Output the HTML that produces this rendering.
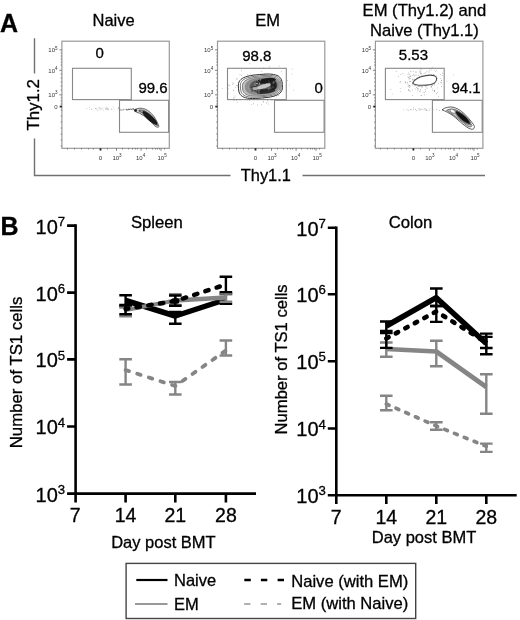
<!DOCTYPE html><html><head><meta charset="utf-8"><style>html,body{margin:0;padding:0;background:#fff;}svg{display:block;will-change:transform;}text{font-family:"Liberation Sans",sans-serif;stroke:#000;stroke-width:0.3px;}text.t{stroke:none;}</style></head><body>
<svg width="520" height="620" viewBox="0 0 520 620">
<rect width="520" height="620" fill="#fff"/>
<text x="0" y="31.6" font-size="25" font-weight="bold">A</text>
<text x="113.6" y="26.2" font-size="16.5" text-anchor="middle">Naive</text>
<text x="267.6" y="26.3" font-size="16.5" text-anchor="middle">EM</text>
<text x="424.4" y="16.4" font-size="16.6" text-anchor="middle">EM (Thy1.2) and</text>
<text x="424.4" y="36.1" font-size="16.6" text-anchor="middle">Naive (Thy1.1)</text>
<g stroke="#707070" stroke-width="1.4" fill="none">
<path d="M34.5 38.2V73.4M34.5 138.4V175.5H230.5M302.5 175.5H485"/>
</g>
<text transform="translate(38.6,130.4) rotate(-90)" font-size="16.8">Thy1.2</text>
<text x="240.8" y="181.4" font-size="16.4">Thy1.1</text>
<rect x="61.9" y="41.2" width="107.4" height="107.10000000000001" fill="none" stroke="#999" stroke-width="1.2"/>
<rect x="72.5" y="68.3" width="58.8" height="31.3" fill="none" stroke="#888" stroke-width="1.1"/>
<rect x="119.5" y="100.3" width="49.10" height="32" fill="none" stroke="#888" stroke-width="1.1"/>
<path d="M59.4 49.9h2.5M59.4 70.3h2.5M59.4 94.8h2.5M60.699999999999996 53h1.2M60.699999999999996 56h1.2M60.699999999999996 59h1.2M60.699999999999996 62h1.2M60.699999999999996 65h1.2M60.699999999999996 74h1.2M60.699999999999996 78h1.2M60.699999999999996 82h1.2M60.699999999999996 86h1.2M60.699999999999996 90h1.2M60.699999999999996 98h1.2M60.699999999999996 101h1.2M60.699999999999996 104h1.2M60.699999999999996 110h1.2M60.699999999999996 116h1.2M60.699999999999996 122h1.2M60.699999999999996 128h1.2M60.699999999999996 134h1.2M60.699999999999996 140h1.2M60.699999999999996 146h1.2" stroke="#666" stroke-width="0.8"/>
<rect x="59.699999999999996" y="105.69999999999999" width="2.2" height="1.8" fill="#222"/>
<path d="M116.5 148.3v2.5M141.1 148.3v2.5M161.0 148.3v2.5M67.5 148.3v1.2M74.5 148.3v1.2M81.5 148.3v1.2M88.5 148.3v1.2M93.5 148.3v1.2M107.5 148.3v1.2M122.5 148.3v1.2M128.5 148.3v1.2M132.5 148.3v1.2M135.5 148.3v1.2M137.5 148.3v1.2M146.5 148.3v1.2M152.5 148.3v1.2M155.5 148.3v1.2M157.5 148.3v1.2M159.5 148.3v1.2M164.5 148.3v1.2" stroke="#666" stroke-width="0.8"/>
<rect x="99.6" y="148.3" width="1.8" height="2.2" fill="#222"/>
<text x="57.6" y="52.1" font-size="6" text-anchor="end" fill="#333" class="t">10<tspan dy="-2.6" font-size="4.6">5</tspan></text>
<text x="57.6" y="72.5" font-size="6" text-anchor="end" fill="#333" class="t">10<tspan dy="-2.6" font-size="4.6">4</tspan></text>
<text x="57.6" y="97.0" font-size="6" text-anchor="end" fill="#333" class="t">10<tspan dy="-2.6" font-size="4.6">3</tspan></text>
<text x="57.6" y="108.8" font-size="6" text-anchor="end" fill="#333" class="t">0</text>
<text x="100.5" y="159.6" font-size="6" text-anchor="middle" fill="#333" class="t">0</text>
<text x="117.0" y="159.6" font-size="6" text-anchor="middle" fill="#333" class="t">10<tspan dy="-2.6" font-size="4.6">3</tspan></text>
<text x="140.6" y="159.6" font-size="6" text-anchor="middle" fill="#333" class="t">10<tspan dy="-2.6" font-size="4.6">4</tspan></text>
<text x="162.1" y="159.6" font-size="6" text-anchor="middle" fill="#333" class="t">10<tspan dy="-2.6" font-size="4.6">5</tspan></text>
<rect x="217.5" y="41.2" width="107.30000000000001" height="107.10000000000001" fill="none" stroke="#999" stroke-width="1.2"/>
<rect x="227.5" y="68.3" width="58.8" height="31.3" fill="none" stroke="#888" stroke-width="1.1"/>
<rect x="274.5" y="100.3" width="49.60" height="32" fill="none" stroke="#888" stroke-width="1.1"/>
<path d="M215.0 49.9h2.5M215.0 70.3h2.5M215.0 94.8h2.5M216.3 53h1.2M216.3 56h1.2M216.3 59h1.2M216.3 62h1.2M216.3 65h1.2M216.3 74h1.2M216.3 78h1.2M216.3 82h1.2M216.3 86h1.2M216.3 90h1.2M216.3 98h1.2M216.3 101h1.2M216.3 104h1.2M216.3 110h1.2M216.3 116h1.2M216.3 122h1.2M216.3 128h1.2M216.3 134h1.2M216.3 140h1.2M216.3 146h1.2" stroke="#666" stroke-width="0.8"/>
<rect x="215.3" y="105.69999999999999" width="2.2" height="1.8" fill="#222"/>
<path d="M271.5 148.3v2.5M296.1 148.3v2.5M316.0 148.3v2.5M222.5 148.3v1.2M229.5 148.3v1.2M236.5 148.3v1.2M243.5 148.3v1.2M248.5 148.3v1.2M262.5 148.3v1.2M277.5 148.3v1.2M283.5 148.3v1.2M287.5 148.3v1.2M290.5 148.3v1.2M292.5 148.3v1.2M301.5 148.3v1.2M307.5 148.3v1.2M310.5 148.3v1.2M312.5 148.3v1.2M314.5 148.3v1.2M319.5 148.3v1.2" stroke="#666" stroke-width="0.8"/>
<rect x="254.6" y="148.3" width="1.8" height="2.2" fill="#222"/>
<text x="213.2" y="52.1" font-size="6" text-anchor="end" fill="#333" class="t">10<tspan dy="-2.6" font-size="4.6">5</tspan></text>
<text x="213.2" y="72.5" font-size="6" text-anchor="end" fill="#333" class="t">10<tspan dy="-2.6" font-size="4.6">4</tspan></text>
<text x="213.2" y="97.0" font-size="6" text-anchor="end" fill="#333" class="t">10<tspan dy="-2.6" font-size="4.6">3</tspan></text>
<text x="213.2" y="108.8" font-size="6" text-anchor="end" fill="#333" class="t">0</text>
<text x="255.5" y="159.6" font-size="6" text-anchor="middle" fill="#333" class="t">0</text>
<text x="272.0" y="159.6" font-size="6" text-anchor="middle" fill="#333" class="t">10<tspan dy="-2.6" font-size="4.6">3</tspan></text>
<text x="295.6" y="159.6" font-size="6" text-anchor="middle" fill="#333" class="t">10<tspan dy="-2.6" font-size="4.6">4</tspan></text>
<text x="317.1" y="159.6" font-size="6" text-anchor="middle" fill="#333" class="t">10<tspan dy="-2.6" font-size="4.6">5</tspan></text>
<rect x="375.4" y="41.2" width="107.5" height="107.10000000000001" fill="none" stroke="#999" stroke-width="1.2"/>
<rect x="385.4" y="68.3" width="58.8" height="31.3" fill="none" stroke="#888" stroke-width="1.1"/>
<rect x="432.4" y="100.3" width="49.80" height="32" fill="none" stroke="#888" stroke-width="1.1"/>
<path d="M372.9 49.9h2.5M372.9 70.3h2.5M372.9 94.8h2.5M374.2 53h1.2M374.2 56h1.2M374.2 59h1.2M374.2 62h1.2M374.2 65h1.2M374.2 74h1.2M374.2 78h1.2M374.2 82h1.2M374.2 86h1.2M374.2 90h1.2M374.2 98h1.2M374.2 101h1.2M374.2 104h1.2M374.2 110h1.2M374.2 116h1.2M374.2 122h1.2M374.2 128h1.2M374.2 134h1.2M374.2 140h1.2M374.2 146h1.2" stroke="#666" stroke-width="0.8"/>
<rect x="373.2" y="105.69999999999999" width="2.2" height="1.8" fill="#222"/>
<path d="M429.4 148.3v2.5M454.0 148.3v2.5M473.9 148.3v2.5M380.4 148.3v1.2M387.4 148.3v1.2M394.4 148.3v1.2M401.4 148.3v1.2M406.4 148.3v1.2M420.4 148.3v1.2M435.4 148.3v1.2M441.4 148.3v1.2M445.4 148.3v1.2M448.4 148.3v1.2M450.4 148.3v1.2M459.4 148.3v1.2M465.4 148.3v1.2M468.4 148.3v1.2M470.4 148.3v1.2M472.4 148.3v1.2M477.4 148.3v1.2" stroke="#666" stroke-width="0.8"/>
<rect x="412.5" y="148.3" width="1.8" height="2.2" fill="#222"/>
<text x="371.09999999999997" y="52.1" font-size="6" text-anchor="end" fill="#333" class="t">10<tspan dy="-2.6" font-size="4.6">5</tspan></text>
<text x="371.09999999999997" y="72.5" font-size="6" text-anchor="end" fill="#333" class="t">10<tspan dy="-2.6" font-size="4.6">4</tspan></text>
<text x="371.09999999999997" y="97.0" font-size="6" text-anchor="end" fill="#333" class="t">10<tspan dy="-2.6" font-size="4.6">3</tspan></text>
<text x="371.09999999999997" y="108.8" font-size="6" text-anchor="end" fill="#333" class="t">0</text>
<text x="413.4" y="159.6" font-size="6" text-anchor="middle" fill="#333" class="t">0</text>
<text x="429.9" y="159.6" font-size="6" text-anchor="middle" fill="#333" class="t">10<tspan dy="-2.6" font-size="4.6">3</tspan></text>
<text x="453.5" y="159.6" font-size="6" text-anchor="middle" fill="#333" class="t">10<tspan dy="-2.6" font-size="4.6">4</tspan></text>
<text x="475.0" y="159.6" font-size="6" text-anchor="middle" fill="#333" class="t">10<tspan dy="-2.6" font-size="4.6">5</tspan></text>
<text transform="translate(95.5,58.3) scale(1,1.0)" font-size="15">0</text>
<text transform="translate(138.4,92.9) scale(1,1.0)" font-size="15">99.6</text>
<text transform="translate(242.2,60.8) scale(1,1.0)" font-size="15">98.8</text>
<text transform="translate(314.5,93.4) scale(1,1.0)" font-size="15">0</text>
<text transform="translate(398.8,59.9) scale(1,1.0)" font-size="15">5.53</text>
<text transform="translate(451.5,93.0) scale(1,1.0)" font-size="15">94.1</text>
<circle cx="101.0" cy="109.3" r="0.45" fill="#aaa"/>
<circle cx="101.2" cy="108.5" r="0.45" fill="#aaa"/>
<circle cx="95.6" cy="108.6" r="0.45" fill="#aaa"/>
<circle cx="111.9" cy="109.2" r="0.45" fill="#aaa"/>
<circle cx="111.3" cy="109.0" r="0.45" fill="#aaa"/>
<circle cx="106.2" cy="109.0" r="0.45" fill="#aaa"/>
<circle cx="89.7" cy="109.6" r="0.45" fill="#aaa"/>
<circle cx="107.1" cy="109.2" r="0.45" fill="#aaa"/>
<circle cx="89.5" cy="107.2" r="0.45" fill="#aaa"/>
<circle cx="95.9" cy="108.4" r="0.45" fill="#aaa"/>
<circle cx="105.4" cy="108.8" r="0.45" fill="#aaa"/>
<circle cx="107.2" cy="108.2" r="0.45" fill="#aaa"/>
<circle cx="105.5" cy="109.2" r="0.45" fill="#aaa"/>
<circle cx="97.7" cy="110.3" r="0.45" fill="#aaa"/>
<circle cx="107.5" cy="109.9" r="0.45" fill="#aaa"/>
<circle cx="98.0" cy="108.1" r="0.45" fill="#aaa"/>
<circle cx="100.2" cy="108.7" r="0.45" fill="#aaa"/>
<circle cx="108.1" cy="109.0" r="0.45" fill="#aaa"/>
<circle cx="99.4" cy="107.9" r="0.45" fill="#aaa"/>
<circle cx="98.8" cy="109.9" r="0.45" fill="#aaa"/>
<circle cx="96.5" cy="109.0" r="0.45" fill="#aaa"/>
<circle cx="106.4" cy="107.5" r="0.45" fill="#aaa"/>
<circle cx="103.4" cy="110.0" r="0.45" fill="#aaa"/>
<circle cx="86.9" cy="108.5" r="0.45" fill="#aaa"/>
<circle cx="102.2" cy="108.1" r="0.45" fill="#aaa"/>
<circle cx="107.0" cy="108.7" r="0.45" fill="#aaa"/>
<circle cx="91.3" cy="109.5" r="0.45" fill="#aaa"/>
<circle cx="108.4" cy="109.7" r="0.45" fill="#aaa"/>
<circle cx="114.5" cy="109.1" r="0.45" fill="#aaa"/>
<circle cx="104.0" cy="107.6" r="0.45" fill="#aaa"/>
<circle cx="107.9" cy="108.2" r="0.45" fill="#aaa"/>
<circle cx="99.4" cy="107.7" r="0.45" fill="#aaa"/>
<circle cx="95.3" cy="108.3" r="0.45" fill="#aaa"/>
<circle cx="113.3" cy="107.0" r="0.45" fill="#aaa"/>
<circle cx="91.3" cy="109.0" r="0.45" fill="#aaa"/>
<circle cx="133.5" cy="109.6" r="0.45" fill="#555"/>
<circle cx="118.5" cy="107.8" r="0.45" fill="#555"/>
<circle cx="128.6" cy="108.9" r="0.45" fill="#555"/>
<circle cx="122.0" cy="109.9" r="0.45" fill="#555"/>
<circle cx="132.0" cy="109.4" r="0.45" fill="#555"/>
<circle cx="128.1" cy="109.6" r="0.45" fill="#555"/>
<circle cx="134.2" cy="109.7" r="0.45" fill="#555"/>
<circle cx="129.3" cy="109.6" r="0.45" fill="#555"/>
<circle cx="119.9" cy="110.1" r="0.45" fill="#555"/>
<circle cx="131.3" cy="109.6" r="0.45" fill="#555"/>
<circle cx="118.1" cy="108.9" r="0.45" fill="#555"/>
<circle cx="130.8" cy="108.2" r="0.45" fill="#555"/>
<circle cx="126.2" cy="109.9" r="0.45" fill="#555"/>
<circle cx="121.1" cy="110.3" r="0.45" fill="#555"/>
<circle cx="129.5" cy="109.2" r="0.45" fill="#555"/>
<circle cx="128.5" cy="109.7" r="0.45" fill="#555"/>
<circle cx="127.5" cy="110.0" r="0.45" fill="#555"/>
<circle cx="124.0" cy="109.1" r="0.45" fill="#555"/>
<circle cx="131.7" cy="109.3" r="0.45" fill="#555"/>
<circle cx="123.0" cy="109.9" r="0.45" fill="#555"/>
<circle cx="133.6" cy="109.0" r="0.45" fill="#555"/>
<circle cx="120.8" cy="109.2" r="0.45" fill="#555"/>
<circle cx="126.3" cy="109.1" r="0.45" fill="#555"/>
<circle cx="133.3" cy="108.7" r="0.45" fill="#555"/>
<circle cx="132.7" cy="108.5" r="0.45" fill="#555"/>
<circle cx="123.5" cy="109.7" r="0.45" fill="#555"/>
<circle cx="132.1" cy="109.8" r="0.45" fill="#555"/>
<circle cx="128.6" cy="109.4" r="0.45" fill="#555"/>
<circle cx="127.7" cy="109.6" r="0.45" fill="#555"/>
<circle cx="126.2" cy="109.5" r="0.45" fill="#555"/>
<circle cx="129.6" cy="109.3" r="0.45" fill="#555"/>
<circle cx="130.4" cy="109.6" r="0.45" fill="#555"/>
<circle cx="136.0" cy="109.5" r="0.45" fill="#555"/>
<circle cx="125.1" cy="109.1" r="0.45" fill="#555"/>
<circle cx="126.9" cy="109.9" r="0.45" fill="#555"/>
<path d="M134.5 109.8 C138 107.6 143 107.6 147.5 110.3 C152.5 113.5 156.5 119.5 159 126.5 C157.5 128.5 154.5 126 151.5 122.5 C147 117.5 142 113.8 134.5 111.2 Z" fill="#d4d4d4" stroke="#444" stroke-width="0.8"/>
<path d="M139 110 C143 109.6 146 111 149 113.5 C153 117 155.5 121 157.5 125.5 C155 125 152 121.5 148.5 118 C145.5 115 142 112.5 139 111.2 Z" fill="#999" stroke="#333" stroke-width="0.6"/>
<ellipse cx="150" cy="118" rx="9.8" ry="2.8" transform="rotate(42 150 118)" fill="#1a1a1a"/>
<circle cx="135.7" cy="110.4" r="1.3" fill="#222"/>
<circle cx="254.0" cy="90.3" r="0.45" fill="#8a8a8a"/>
<circle cx="279.2" cy="65.9" r="0.45" fill="#8a8a8a"/>
<circle cx="243.8" cy="90.7" r="0.45" fill="#8a8a8a"/>
<circle cx="263.4" cy="87.9" r="0.45" fill="#8a8a8a"/>
<circle cx="253.1" cy="92.3" r="0.45" fill="#8a8a8a"/>
<circle cx="261.1" cy="82.9" r="0.45" fill="#8a8a8a"/>
<circle cx="289.6" cy="85.1" r="0.45" fill="#8a8a8a"/>
<circle cx="250.8" cy="87.3" r="0.45" fill="#8a8a8a"/>
<circle cx="255.0" cy="87.0" r="0.45" fill="#8a8a8a"/>
<circle cx="222.4" cy="88.6" r="0.45" fill="#8a8a8a"/>
<circle cx="269.8" cy="77.1" r="0.45" fill="#8a8a8a"/>
<circle cx="258.1" cy="93.7" r="0.45" fill="#8a8a8a"/>
<circle cx="270.5" cy="95.8" r="0.45" fill="#8a8a8a"/>
<circle cx="235.8" cy="87.6" r="0.45" fill="#8a8a8a"/>
<circle cx="254.2" cy="91.9" r="0.45" fill="#8a8a8a"/>
<circle cx="269.4" cy="66.4" r="0.45" fill="#8a8a8a"/>
<circle cx="270.6" cy="75.0" r="0.45" fill="#8a8a8a"/>
<circle cx="265.3" cy="75.4" r="0.45" fill="#8a8a8a"/>
<circle cx="261.4" cy="95.0" r="0.45" fill="#8a8a8a"/>
<circle cx="256.3" cy="88.6" r="0.45" fill="#8a8a8a"/>
<circle cx="268.4" cy="86.5" r="0.45" fill="#8a8a8a"/>
<circle cx="258.4" cy="97.8" r="0.45" fill="#8a8a8a"/>
<circle cx="271.2" cy="83.1" r="0.45" fill="#8a8a8a"/>
<circle cx="292.2" cy="74.1" r="0.45" fill="#8a8a8a"/>
<circle cx="269.5" cy="83.5" r="0.45" fill="#8a8a8a"/>
<circle cx="260.4" cy="91.6" r="0.45" fill="#8a8a8a"/>
<circle cx="261.5" cy="91.0" r="0.45" fill="#8a8a8a"/>
<circle cx="236.9" cy="79.3" r="0.45" fill="#8a8a8a"/>
<circle cx="265.0" cy="79.2" r="0.45" fill="#8a8a8a"/>
<circle cx="243.4" cy="78.7" r="0.45" fill="#8a8a8a"/>
<circle cx="275.0" cy="89.9" r="0.45" fill="#8a8a8a"/>
<circle cx="276.1" cy="77.8" r="0.45" fill="#8a8a8a"/>
<circle cx="256.9" cy="79.1" r="0.45" fill="#8a8a8a"/>
<circle cx="269.4" cy="96.6" r="0.45" fill="#8a8a8a"/>
<circle cx="248.1" cy="99.4" r="0.45" fill="#8a8a8a"/>
<circle cx="270.5" cy="84.0" r="0.45" fill="#8a8a8a"/>
<circle cx="234.0" cy="100.3" r="0.45" fill="#8a8a8a"/>
<circle cx="256.2" cy="83.0" r="0.45" fill="#8a8a8a"/>
<circle cx="263.5" cy="89.1" r="0.45" fill="#8a8a8a"/>
<circle cx="276.3" cy="77.2" r="0.45" fill="#8a8a8a"/>
<circle cx="274.1" cy="95.3" r="0.45" fill="#8a8a8a"/>
<circle cx="276.5" cy="83.1" r="0.45" fill="#8a8a8a"/>
<circle cx="249.4" cy="95.4" r="0.45" fill="#8a8a8a"/>
<circle cx="259.6" cy="87.7" r="0.45" fill="#8a8a8a"/>
<circle cx="276.1" cy="82.6" r="0.45" fill="#8a8a8a"/>
<circle cx="228.1" cy="88.5" r="0.45" fill="#8a8a8a"/>
<circle cx="234.9" cy="96.0" r="0.45" fill="#8a8a8a"/>
<circle cx="261.5" cy="82.2" r="0.45" fill="#8a8a8a"/>
<circle cx="258.7" cy="92.8" r="0.45" fill="#8a8a8a"/>
<circle cx="260.3" cy="96.1" r="0.45" fill="#8a8a8a"/>
<circle cx="258.2" cy="94.3" r="0.45" fill="#8a8a8a"/>
<circle cx="278.8" cy="95.5" r="0.45" fill="#8a8a8a"/>
<circle cx="250.2" cy="94.3" r="0.45" fill="#8a8a8a"/>
<circle cx="232.8" cy="82.9" r="0.45" fill="#8a8a8a"/>
<circle cx="233.8" cy="98.0" r="0.45" fill="#8a8a8a"/>
<circle cx="242.1" cy="89.1" r="0.45" fill="#8a8a8a"/>
<circle cx="255.5" cy="87.1" r="0.45" fill="#8a8a8a"/>
<circle cx="250.6" cy="89.7" r="0.45" fill="#8a8a8a"/>
<circle cx="281.1" cy="84.1" r="0.45" fill="#8a8a8a"/>
<circle cx="265.8" cy="93.0" r="0.45" fill="#8a8a8a"/>
<circle cx="254.2" cy="78.6" r="0.45" fill="#8a8a8a"/>
<circle cx="251.9" cy="95.4" r="0.45" fill="#8a8a8a"/>
<circle cx="236.2" cy="85.8" r="0.45" fill="#8a8a8a"/>
<circle cx="271.7" cy="90.7" r="0.45" fill="#8a8a8a"/>
<circle cx="258.9" cy="92.6" r="0.45" fill="#8a8a8a"/>
<circle cx="259.0" cy="78.5" r="0.45" fill="#8a8a8a"/>
<circle cx="237.2" cy="85.4" r="0.45" fill="#8a8a8a"/>
<circle cx="269.3" cy="81.4" r="0.45" fill="#8a8a8a"/>
<circle cx="245.6" cy="83.3" r="0.45" fill="#8a8a8a"/>
<circle cx="238.2" cy="89.0" r="0.45" fill="#8a8a8a"/>
<circle cx="243.2" cy="91.7" r="0.45" fill="#8a8a8a"/>
<circle cx="227.9" cy="93.5" r="0.45" fill="#8a8a8a"/>
<circle cx="247.8" cy="74.7" r="0.45" fill="#8a8a8a"/>
<circle cx="267.1" cy="83.8" r="0.45" fill="#8a8a8a"/>
<circle cx="228.4" cy="85.0" r="0.45" fill="#8a8a8a"/>
<circle cx="261.3" cy="83.3" r="0.45" fill="#8a8a8a"/>
<circle cx="268.8" cy="90.8" r="0.45" fill="#8a8a8a"/>
<circle cx="266.9" cy="88.1" r="0.45" fill="#8a8a8a"/>
<circle cx="275.8" cy="89.2" r="0.45" fill="#8a8a8a"/>
<circle cx="261.8" cy="71.7" r="0.45" fill="#8a8a8a"/>
<circle cx="270.8" cy="94.5" r="0.45" fill="#8a8a8a"/>
<circle cx="253.7" cy="84.3" r="0.45" fill="#8a8a8a"/>
<circle cx="281.3" cy="71.3" r="0.45" fill="#8a8a8a"/>
<circle cx="266.4" cy="103.0" r="0.45" fill="#8a8a8a"/>
<circle cx="246.7" cy="93.5" r="0.45" fill="#8a8a8a"/>
<circle cx="282.2" cy="82.8" r="0.45" fill="#8a8a8a"/>
<circle cx="266.1" cy="92.2" r="0.45" fill="#8a8a8a"/>
<circle cx="246.3" cy="88.0" r="0.45" fill="#8a8a8a"/>
<circle cx="262.6" cy="92.2" r="0.45" fill="#8a8a8a"/>
<circle cx="257.4" cy="85.7" r="0.45" fill="#8a8a8a"/>
<circle cx="244.6" cy="86.3" r="0.45" fill="#8a8a8a"/>
<circle cx="269.6" cy="86.1" r="0.45" fill="#8a8a8a"/>
<circle cx="246.2" cy="82.7" r="0.45" fill="#8a8a8a"/>
<circle cx="293.4" cy="90.1" r="0.45" fill="#8a8a8a"/>
<circle cx="263.7" cy="67.9" r="0.45" fill="#8a8a8a"/>
<circle cx="266.5" cy="89.2" r="0.45" fill="#8a8a8a"/>
<circle cx="280.1" cy="86.9" r="0.45" fill="#8a8a8a"/>
<circle cx="257.6" cy="90.7" r="0.45" fill="#8a8a8a"/>
<circle cx="234.0" cy="97.7" r="0.45" fill="#8a8a8a"/>
<circle cx="261.5" cy="81.5" r="0.45" fill="#8a8a8a"/>
<circle cx="276.8" cy="97.1" r="0.45" fill="#8a8a8a"/>
<circle cx="239.3" cy="84.9" r="0.45" fill="#8a8a8a"/>
<circle cx="261.9" cy="87.7" r="0.45" fill="#8a8a8a"/>
<circle cx="251.9" cy="81.0" r="0.45" fill="#8a8a8a"/>
<circle cx="286.3" cy="90.4" r="0.45" fill="#8a8a8a"/>
<circle cx="241.3" cy="79.8" r="0.45" fill="#8a8a8a"/>
<circle cx="280.9" cy="90.8" r="0.45" fill="#8a8a8a"/>
<circle cx="282.2" cy="89.3" r="0.45" fill="#8a8a8a"/>
<circle cx="247.0" cy="90.4" r="0.45" fill="#8a8a8a"/>
<circle cx="229.5" cy="85.7" r="0.45" fill="#8a8a8a"/>
<circle cx="257.8" cy="90.7" r="0.45" fill="#8a8a8a"/>
<circle cx="248.5" cy="87.5" r="0.45" fill="#8a8a8a"/>
<circle cx="264.3" cy="88.8" r="0.45" fill="#8a8a8a"/>
<circle cx="266.4" cy="87.3" r="0.45" fill="#8a8a8a"/>
<circle cx="254.6" cy="93.1" r="0.45" fill="#8a8a8a"/>
<circle cx="257.8" cy="81.2" r="0.45" fill="#8a8a8a"/>
<circle cx="249.9" cy="88.1" r="0.45" fill="#8a8a8a"/>
<circle cx="256.7" cy="88.3" r="0.45" fill="#8a8a8a"/>
<circle cx="258.2" cy="88.2" r="0.45" fill="#8a8a8a"/>
<circle cx="255.0" cy="78.5" r="0.45" fill="#8a8a8a"/>
<circle cx="264.5" cy="93.5" r="0.45" fill="#8a8a8a"/>
<circle cx="263.4" cy="84.9" r="0.45" fill="#8a8a8a"/>
<circle cx="262.8" cy="79.5" r="0.45" fill="#8a8a8a"/>
<circle cx="233.6" cy="90.8" r="0.45" fill="#8a8a8a"/>
<circle cx="246.7" cy="93.8" r="0.45" fill="#8a8a8a"/>
<circle cx="241.5" cy="70.7" r="0.45" fill="#8a8a8a"/>
<circle cx="246.2" cy="99.8" r="0.45" fill="#8a8a8a"/>
<circle cx="251.8" cy="78.2" r="0.45" fill="#8a8a8a"/>
<circle cx="248.7" cy="92.0" r="0.45" fill="#8a8a8a"/>
<circle cx="264.6" cy="87.3" r="0.45" fill="#8a8a8a"/>
<circle cx="277.8" cy="89.2" r="0.45" fill="#8a8a8a"/>
<circle cx="258.3" cy="91.2" r="0.45" fill="#8a8a8a"/>
<circle cx="280.2" cy="90.7" r="0.45" fill="#8a8a8a"/>
<circle cx="270.1" cy="77.6" r="0.45" fill="#8a8a8a"/>
<circle cx="256.8" cy="92.3" r="0.45" fill="#8a8a8a"/>
<circle cx="255.2" cy="94.9" r="0.45" fill="#8a8a8a"/>
<circle cx="266.6" cy="92.2" r="0.45" fill="#8a8a8a"/>
<circle cx="257.7" cy="105.0" r="0.45" fill="#8a8a8a"/>
<circle cx="273.8" cy="83.3" r="0.45" fill="#8a8a8a"/>
<circle cx="261.7" cy="104.8" r="0.45" fill="#8a8a8a"/>
<circle cx="254.4" cy="93.7" r="0.45" fill="#8a8a8a"/>
<circle cx="270.6" cy="85.3" r="0.45" fill="#8a8a8a"/>
<circle cx="243.2" cy="90.4" r="0.45" fill="#8a8a8a"/>
<circle cx="263.7" cy="94.2" r="0.45" fill="#8a8a8a"/>
<circle cx="268.1" cy="85.8" r="0.45" fill="#8a8a8a"/>
<circle cx="269.5" cy="89.2" r="0.45" fill="#8a8a8a"/>
<circle cx="260.7" cy="87.0" r="0.45" fill="#8a8a8a"/>
<circle cx="255.5" cy="92.2" r="0.45" fill="#8a8a8a"/>
<circle cx="243.8" cy="84.5" r="0.45" fill="#8a8a8a"/>
<circle cx="256.6" cy="76.8" r="0.45" fill="#8a8a8a"/>
<circle cx="250.4" cy="73.9" r="0.45" fill="#8a8a8a"/>
<circle cx="249.8" cy="92.2" r="0.45" fill="#8a8a8a"/>
<circle cx="265.2" cy="85.6" r="0.45" fill="#8a8a8a"/>
<circle cx="253.6" cy="77.6" r="0.45" fill="#8a8a8a"/>
<circle cx="282.0" cy="87.3" r="0.45" fill="#8a8a8a"/>
<circle cx="271.2" cy="78.9" r="0.45" fill="#8a8a8a"/>
<circle cx="253.8" cy="74.7" r="0.45" fill="#8a8a8a"/>
<circle cx="269.0" cy="92.1" r="0.45" fill="#8a8a8a"/>
<circle cx="233.5" cy="90.1" r="0.45" fill="#8a8a8a"/>
<circle cx="264.4" cy="73.6" r="0.45" fill="#8a8a8a"/>
<circle cx="233.5" cy="82.9" r="0.45" fill="#8a8a8a"/>
<circle cx="248.5" cy="78.4" r="0.45" fill="#8a8a8a"/>
<circle cx="258.7" cy="88.7" r="0.45" fill="#8a8a8a"/>
<circle cx="266.8" cy="90.7" r="0.45" fill="#8a8a8a"/>
<circle cx="278.5" cy="92.4" r="0.45" fill="#8a8a8a"/>
<circle cx="240.6" cy="85.9" r="0.45" fill="#8a8a8a"/>
<circle cx="243.3" cy="81.5" r="0.45" fill="#8a8a8a"/>
<circle cx="257.0" cy="87.2" r="0.45" fill="#8a8a8a"/>
<circle cx="262.8" cy="75.1" r="0.45" fill="#8a8a8a"/>
<circle cx="242.0" cy="89.1" r="0.45" fill="#8a8a8a"/>
<circle cx="255.1" cy="85.2" r="0.45" fill="#8a8a8a"/>
<circle cx="256.4" cy="81.8" r="0.45" fill="#8a8a8a"/>
<circle cx="267.4" cy="88.2" r="0.45" fill="#8a8a8a"/>
<circle cx="256.2" cy="82.5" r="0.45" fill="#8a8a8a"/>
<circle cx="253.1" cy="68.4" r="0.45" fill="#8a8a8a"/>
<circle cx="245.4" cy="89.0" r="0.45" fill="#8a8a8a"/>
<circle cx="238.8" cy="91.1" r="0.45" fill="#8a8a8a"/>
<circle cx="258.6" cy="77.2" r="0.45" fill="#8a8a8a"/>
<circle cx="254.5" cy="85.3" r="0.45" fill="#8a8a8a"/>
<circle cx="264.5" cy="90.4" r="0.45" fill="#8a8a8a"/>
<circle cx="256.7" cy="81.2" r="0.45" fill="#8a8a8a"/>
<circle cx="256.1" cy="86.8" r="0.45" fill="#8a8a8a"/>
<circle cx="267.7" cy="87.7" r="0.45" fill="#8a8a8a"/>
<circle cx="247.4" cy="78.9" r="0.45" fill="#8a8a8a"/>
<circle cx="252.5" cy="82.5" r="0.45" fill="#8a8a8a"/>
<circle cx="243.6" cy="88.2" r="0.45" fill="#8a8a8a"/>
<circle cx="251.8" cy="88.6" r="0.45" fill="#8a8a8a"/>
<circle cx="264.3" cy="83.2" r="0.45" fill="#8a8a8a"/>
<circle cx="287.6" cy="80.6" r="0.45" fill="#8a8a8a"/>
<circle cx="272.3" cy="85.9" r="0.45" fill="#8a8a8a"/>
<circle cx="270.1" cy="68.5" r="0.45" fill="#8a8a8a"/>
<circle cx="248.6" cy="90.1" r="0.45" fill="#8a8a8a"/>
<circle cx="268.0" cy="102.1" r="0.45" fill="#8a8a8a"/>
<circle cx="263.4" cy="95.3" r="0.45" fill="#8a8a8a"/>
<circle cx="268.8" cy="92.2" r="0.45" fill="#8a8a8a"/>
<circle cx="264.4" cy="85.0" r="0.45" fill="#8a8a8a"/>
<circle cx="263.5" cy="78.6" r="0.45" fill="#8a8a8a"/>
<circle cx="272.2" cy="77.8" r="0.45" fill="#8a8a8a"/>
<circle cx="263.3" cy="101.3" r="0.45" fill="#8a8a8a"/>
<circle cx="255.1" cy="87.5" r="0.45" fill="#8a8a8a"/>
<circle cx="273.0" cy="85.1" r="0.45" fill="#8a8a8a"/>
<circle cx="247.9" cy="90.3" r="0.45" fill="#8a8a8a"/>
<circle cx="266.2" cy="90.9" r="0.45" fill="#8a8a8a"/>
<circle cx="249.8" cy="100.5" r="0.45" fill="#8a8a8a"/>
<circle cx="279.5" cy="84.1" r="0.45" fill="#8a8a8a"/>
<circle cx="261.0" cy="83.5" r="0.45" fill="#8a8a8a"/>
<circle cx="275.5" cy="79.6" r="0.45" fill="#8a8a8a"/>
<circle cx="266.2" cy="82.5" r="0.45" fill="#8a8a8a"/>
<circle cx="249.8" cy="93.2" r="0.45" fill="#8a8a8a"/>
<circle cx="275.2" cy="84.5" r="0.45" fill="#8a8a8a"/>
<circle cx="250.1" cy="93.9" r="0.45" fill="#8a8a8a"/>
<circle cx="257.7" cy="89.2" r="0.45" fill="#8a8a8a"/>
<circle cx="278.7" cy="92.1" r="0.45" fill="#8a8a8a"/>
<circle cx="253.5" cy="103.8" r="0.45" fill="#8a8a8a"/>
<circle cx="258.8" cy="92.4" r="0.45" fill="#8a8a8a"/>
<circle cx="249.6" cy="87.9" r="0.45" fill="#8a8a8a"/>
<circle cx="237.2" cy="102.6" r="0.45" fill="#8a8a8a"/>
<circle cx="274.4" cy="76.1" r="0.45" fill="#8a8a8a"/>
<circle cx="237.0" cy="78.5" r="0.45" fill="#8a8a8a"/>
<circle cx="272.7" cy="81.7" r="0.45" fill="#8a8a8a"/>
<circle cx="256.9" cy="84.9" r="0.45" fill="#8a8a8a"/>
<circle cx="255.4" cy="79.7" r="0.45" fill="#8a8a8a"/>
<circle cx="256.9" cy="77.0" r="0.45" fill="#8a8a8a"/>
<circle cx="257.4" cy="89.3" r="0.45" fill="#8a8a8a"/>
<circle cx="263.8" cy="84.5" r="0.45" fill="#8a8a8a"/>
<circle cx="246.5" cy="89.7" r="0.45" fill="#8a8a8a"/>
<circle cx="253.3" cy="98.7" r="0.45" fill="#8a8a8a"/>
<circle cx="267.8" cy="84.8" r="0.45" fill="#8a8a8a"/>
<circle cx="251.3" cy="83.0" r="0.45" fill="#8a8a8a"/>
<circle cx="245.6" cy="86.2" r="0.45" fill="#8a8a8a"/>
<circle cx="262.3" cy="90.0" r="0.45" fill="#8a8a8a"/>
<circle cx="267.4" cy="100.5" r="0.45" fill="#8a8a8a"/>
<circle cx="248.9" cy="88.4" r="0.45" fill="#8a8a8a"/>
<circle cx="292.2" cy="69.0" r="0.45" fill="#8a8a8a"/>
<circle cx="251.5" cy="89.1" r="0.45" fill="#8a8a8a"/>
<circle cx="260.4" cy="89.5" r="0.45" fill="#8a8a8a"/>
<circle cx="255.3" cy="90.0" r="0.45" fill="#8a8a8a"/>
<circle cx="259.4" cy="92.3" r="0.45" fill="#8a8a8a"/>
<circle cx="232.8" cy="84.3" r="0.45" fill="#8a8a8a"/>
<circle cx="257.0" cy="79.9" r="0.45" fill="#8a8a8a"/>
<circle cx="245.2" cy="93.2" r="0.45" fill="#8a8a8a"/>
<circle cx="250.3" cy="92.6" r="0.45" fill="#8a8a8a"/>
<circle cx="267.9" cy="87.8" r="0.45" fill="#8a8a8a"/>
<circle cx="264.4" cy="85.4" r="0.45" fill="#8a8a8a"/>
<circle cx="239.8" cy="89.3" r="0.45" fill="#8a8a8a"/>
<circle cx="263.3" cy="82.5" r="0.45" fill="#8a8a8a"/>
<circle cx="257.4" cy="92.4" r="0.45" fill="#8a8a8a"/>
<circle cx="247.3" cy="93.0" r="0.45" fill="#8a8a8a"/>
<circle cx="281.4" cy="79.8" r="0.45" fill="#8a8a8a"/>
<circle cx="259.7" cy="85.7" r="0.45" fill="#8a8a8a"/>
<circle cx="278.1" cy="86.4" r="0.45" fill="#8a8a8a"/>
<circle cx="268.9" cy="80.6" r="0.45" fill="#8a8a8a"/>
<circle cx="257.8" cy="87.0" r="0.45" fill="#8a8a8a"/>
<circle cx="236.5" cy="100.2" r="0.45" fill="#8a8a8a"/>
<circle cx="267.9" cy="73.2" r="0.45" fill="#8a8a8a"/>
<circle cx="267.5" cy="84.7" r="0.45" fill="#8a8a8a"/>
<circle cx="264.1" cy="88.7" r="0.45" fill="#8a8a8a"/>
<circle cx="238.5" cy="88.2" r="0.45" fill="#8a8a8a"/>
<circle cx="276.7" cy="80.3" r="0.45" fill="#8a8a8a"/>
<circle cx="243.5" cy="79.4" r="0.45" fill="#8a8a8a"/>
<circle cx="242.6" cy="91.5" r="0.45" fill="#8a8a8a"/>
<circle cx="280.2" cy="86.9" r="0.45" fill="#8a8a8a"/>
<circle cx="263.3" cy="102.0" r="0.45" fill="#8a8a8a"/>
<circle cx="250.7" cy="83.3" r="0.45" fill="#8a8a8a"/>
<circle cx="265.3" cy="89.8" r="0.45" fill="#8a8a8a"/>
<circle cx="243.8" cy="80.7" r="0.45" fill="#8a8a8a"/>
<circle cx="262.0" cy="88.2" r="0.45" fill="#8a8a8a"/>
<circle cx="241.0" cy="88.0" r="0.45" fill="#8a8a8a"/>
<circle cx="251.5" cy="91.2" r="0.45" fill="#8a8a8a"/>
<circle cx="256.4" cy="86.6" r="0.45" fill="#8a8a8a"/>
<circle cx="254.5" cy="94.9" r="0.45" fill="#8a8a8a"/>
<circle cx="275.5" cy="81.9" r="0.45" fill="#8a8a8a"/>
<circle cx="268.2" cy="80.2" r="0.45" fill="#8a8a8a"/>
<circle cx="259.7" cy="92.1" r="0.45" fill="#8a8a8a"/>
<circle cx="277.1" cy="81.6" r="0.45" fill="#8a8a8a"/>
<circle cx="257.2" cy="88.5" r="0.45" fill="#8a8a8a"/>
<circle cx="238.7" cy="89.8" r="0.45" fill="#8a8a8a"/>
<circle cx="249.7" cy="90.8" r="0.45" fill="#8a8a8a"/>
<circle cx="241.5" cy="75.3" r="0.45" fill="#8a8a8a"/>
<circle cx="258.7" cy="88.7" r="0.45" fill="#8a8a8a"/>
<circle cx="251.8" cy="94.2" r="0.45" fill="#8a8a8a"/>
<circle cx="253.9" cy="83.3" r="0.45" fill="#8a8a8a"/>
<circle cx="262.6" cy="75.3" r="0.45" fill="#8a8a8a"/>
<circle cx="249.3" cy="88.1" r="0.45" fill="#8a8a8a"/>
<circle cx="268.8" cy="84.3" r="0.45" fill="#8a8a8a"/>
<circle cx="261.3" cy="81.9" r="0.45" fill="#8a8a8a"/>
<circle cx="263.5" cy="98.0" r="0.45" fill="#8a8a8a"/>
<circle cx="251.5" cy="104.6" r="0.45" fill="#8a8a8a"/>
<circle cx="249.7" cy="88.3" r="0.45" fill="#8a8a8a"/>
<circle cx="261.2" cy="93.8" r="0.45" fill="#8a8a8a"/>
<circle cx="240.0" cy="74.7" r="0.45" fill="#8a8a8a"/>
<circle cx="266.6" cy="91.4" r="0.45" fill="#8a8a8a"/>
<circle cx="268.6" cy="104.1" r="0.45" fill="#8a8a8a"/>
<circle cx="260.9" cy="88.4" r="0.45" fill="#8a8a8a"/>
<circle cx="270.3" cy="87.9" r="0.45" fill="#8a8a8a"/>
<circle cx="278.2" cy="75.4" r="0.45" fill="#8a8a8a"/>
<circle cx="249.8" cy="63.8" r="0.45" fill="#8a8a8a"/>
<circle cx="268.1" cy="82.9" r="0.45" fill="#8a8a8a"/>
<circle cx="272.0" cy="100.3" r="0.45" fill="#8a8a8a"/>
<circle cx="257.7" cy="85.2" r="0.45" fill="#8a8a8a"/>
<path d="M282.32 84.38 L282.46 87.42 L282.23 89.20 L281.73 90.68 L280.96 91.96 L279.92 93.10 L278.61 94.11 L277.02 95.00 L275.14 95.77 L272.93 96.44 L270.31 97.01 L267.06 97.49 L261.43 98.06 L255.78 98.48 L252.50 98.57 L249.82 98.46 L247.53 98.19 L245.54 97.75 L243.82 97.15 L242.36 96.39 L241.14 95.45 L240.15 94.31 L239.40 92.95 L238.87 91.23 L238.48 88.22 L238.34 85.18 L238.57 83.40 L239.07 81.92 L239.84 80.64 L240.88 79.50 L242.19 78.49 L243.78 77.60 L245.66 76.83 L247.87 76.16 L250.49 75.59 L253.74 75.11 L259.37 74.54 L265.02 74.12 L268.30 74.03 L270.98 74.14 L273.27 74.41 L275.26 74.85 L276.98 75.45 L278.44 76.21 L279.66 77.15 L280.65 78.29 L281.40 79.65 L281.93 81.37Z" fill="#fff" stroke="#333" stroke-width="1.0"/>
<path d="M281.12 84.52 L281.24 87.22 L281.03 88.81 L280.56 90.13 L279.84 91.27 L278.87 92.29 L277.66 93.19 L276.18 93.99 L274.43 94.68 L272.38 95.29 L269.95 95.80 L266.94 96.24 L261.72 96.76 L256.48 97.16 L253.44 97.24 L250.96 97.16 L248.83 96.92 L246.99 96.54 L245.40 96.01 L244.04 95.34 L242.91 94.50 L242.00 93.50 L241.31 92.29 L240.83 90.76 L240.48 88.08 L240.36 85.38 L240.57 83.79 L241.04 82.47 L241.76 81.33 L242.73 80.31 L243.94 79.41 L245.42 78.61 L247.17 77.92 L249.22 77.31 L251.65 76.80 L254.66 76.36 L259.88 75.84 L265.12 75.44 L268.16 75.36 L270.64 75.44 L272.77 75.68 L274.61 76.06 L276.20 76.59 L277.56 77.26 L278.69 78.10 L279.60 79.10 L280.29 80.31 L280.77 81.84Z" fill="#fff" stroke="#555" stroke-width="0.8"/>
<path d="M280.13 84.65 L280.20 86.85 L279.98 88.26 L279.51 89.46 L278.79 90.52 L277.83 91.47 L276.64 92.32 L275.20 93.08 L273.52 93.75 L271.55 94.32 L269.27 94.81 L266.51 95.22 L262.12 95.66 L257.72 95.99 L254.93 96.06 L252.59 95.98 L250.56 95.75 L248.79 95.39 L247.24 94.90 L245.92 94.27 L244.81 93.49 L243.92 92.57 L243.24 91.47 L242.78 90.12 L242.47 87.95 L242.40 85.75 L242.62 84.34 L243.09 83.14 L243.81 82.08 L244.77 81.13 L245.96 80.28 L247.40 79.52 L249.08 78.85 L251.05 78.28 L253.33 77.79 L256.09 77.38 L260.48 76.94 L264.88 76.61 L267.67 76.54 L270.01 76.62 L272.04 76.85 L273.81 77.21 L275.36 77.70 L276.68 78.33 L277.79 79.11 L278.68 80.03 L279.36 81.13 L279.82 82.48Z" fill="#c0c0c0" stroke="#555" stroke-width="0.7"/>
<path d="M278.94 84.64 L278.98 86.35 L278.75 87.56 L278.29 88.62 L277.60 89.58 L276.69 90.45 L275.57 91.24 L274.22 91.94 L272.66 92.55 L270.87 93.09 L268.81 93.54 L266.40 93.91 L262.91 94.27 L259.42 94.52 L256.98 94.57 L254.88 94.49 L253.02 94.27 L251.37 93.94 L249.93 93.48 L248.68 92.90 L247.64 92.20 L246.79 91.38 L246.16 90.41 L245.72 89.26 L245.46 87.56 L245.42 85.85 L245.65 84.64 L246.11 83.58 L246.80 82.62 L247.71 81.75 L248.83 80.96 L250.18 80.26 L251.74 79.65 L253.53 79.11 L255.59 78.66 L258.00 78.29 L261.49 77.93 L264.98 77.68 L267.42 77.63 L269.52 77.71 L271.38 77.93 L273.03 78.26 L274.47 78.72 L275.72 79.30 L276.76 80.00 L277.61 80.82 L278.24 81.79 L278.68 82.94Z" fill="#8e8e8e" stroke="#777" stroke-width="0.5"/>
<path d="M277.05 84.62 L277.06 85.84 L276.85 86.79 L276.45 87.65 L275.85 88.45 L275.07 89.18 L274.11 89.84 L272.97 90.44 L271.66 90.97 L270.18 91.43 L268.52 91.81 L266.64 92.11 L264.18 92.37 L261.71 92.54 L259.80 92.57 L258.10 92.48 L256.56 92.29 L255.18 92.00 L253.96 91.61 L252.89 91.12 L251.99 90.53 L251.27 89.85 L250.72 89.07 L250.35 88.17 L250.15 86.98 L250.14 85.76 L250.35 84.81 L250.75 83.95 L251.35 83.15 L252.13 82.42 L253.09 81.76 L254.23 81.16 L255.54 80.63 L257.02 80.17 L258.68 79.79 L260.56 79.49 L263.02 79.23 L265.49 79.06 L267.40 79.03 L269.10 79.12 L270.64 79.31 L272.02 79.60 L273.24 79.99 L274.31 80.48 L275.21 81.07 L275.93 81.75 L276.48 82.53 L276.85 83.43Z" fill="#5a5a5a" stroke="#555" stroke-width="0.4"/>
<ellipse cx="266" cy="80.8" rx="10" ry="2.6" transform="rotate(-8 266 80.8)" fill="#1a1a1a"/>
<ellipse cx="266" cy="91.3" rx="9.5" ry="2.3" transform="rotate(-8 266 91.3)" fill="#2a2a2a"/>
<ellipse cx="273.5" cy="85" rx="3" ry="4.5" transform="rotate(-8 273.5 85)" fill="#222"/>
<circle cx="266.6" cy="83.9" r="0.99" fill="#aaa"/>
<circle cx="260.4" cy="80.7" r="0.64" fill="#333"/>
<circle cx="257.8" cy="92.7" r="0.78" fill="#333"/>
<circle cx="269.2" cy="83.7" r="0.91" fill="#aaa"/>
<circle cx="260.1" cy="79.9" r="0.60" fill="#222"/>
<circle cx="263.2" cy="85.1" r="0.68" fill="#aaa"/>
<circle cx="259.5" cy="90.6" r="0.52" fill="#222"/>
<circle cx="273.8" cy="81.6" r="0.95" fill="#333"/>
<circle cx="257.5" cy="83.2" r="0.52" fill="#777"/>
<circle cx="268.9" cy="88.1" r="0.65" fill="#aaa"/>
<circle cx="268.2" cy="86.8" r="0.51" fill="#333"/>
<circle cx="254.5" cy="86.3" r="0.98" fill="#222"/>
<circle cx="258.8" cy="82.8" r="0.91" fill="#222"/>
<circle cx="251.7" cy="86.8" r="0.90" fill="#333"/>
<circle cx="268.7" cy="89.9" r="0.80" fill="#555"/>
<circle cx="257.2" cy="83.9" r="0.89" fill="#aaa"/>
<circle cx="264.7" cy="85.9" r="0.88" fill="#222"/>
<circle cx="248.9" cy="87.9" r="0.58" fill="#aaa"/>
<circle cx="259.9" cy="80.6" r="0.63" fill="#333"/>
<circle cx="262.0" cy="88.9" r="0.59" fill="#222"/>
<circle cx="251.7" cy="86.3" r="0.87" fill="#555"/>
<circle cx="271.7" cy="87.5" r="0.89" fill="#333"/>
<circle cx="256.2" cy="83.4" r="0.69" fill="#aaa"/>
<circle cx="268.7" cy="81.2" r="0.59" fill="#555"/>
<circle cx="254.6" cy="83.6" r="0.59" fill="#777"/>
<circle cx="254.9" cy="87.0" r="0.83" fill="#333"/>
<circle cx="261.3" cy="90.5" r="0.96" fill="#222"/>
<circle cx="251.3" cy="82.6" r="0.60" fill="#777"/>
<circle cx="250.1" cy="87.2" r="0.72" fill="#555"/>
<circle cx="255.3" cy="90.5" r="0.55" fill="#333"/>
<circle cx="264.7" cy="87.4" r="0.52" fill="#555"/>
<circle cx="257.5" cy="80.0" r="0.52" fill="#aaa"/>
<circle cx="268.5" cy="91.2" r="0.91" fill="#333"/>
<circle cx="259.5" cy="84.4" r="0.66" fill="#777"/>
<circle cx="253.7" cy="90.8" r="0.74" fill="#777"/>
<circle cx="259.4" cy="90.4" r="0.58" fill="#777"/>
<circle cx="263.0" cy="88.1" r="0.85" fill="#222"/>
<circle cx="259.5" cy="83.2" r="0.71" fill="#aaa"/>
<circle cx="272.7" cy="83.9" r="0.93" fill="#333"/>
<circle cx="253.5" cy="89.9" r="0.97" fill="#555"/>
<circle cx="260.2" cy="81.3" r="0.91" fill="#333"/>
<circle cx="259.4" cy="91.6" r="0.89" fill="#222"/>
<circle cx="252.0" cy="91.1" r="0.54" fill="#222"/>
<circle cx="265.4" cy="83.9" r="0.59" fill="#777"/>
<circle cx="257.7" cy="81.6" r="0.96" fill="#555"/>
<circle cx="251.0" cy="86.8" r="0.65" fill="#555"/>
<circle cx="273.6" cy="82.4" r="0.96" fill="#777"/>
<circle cx="258.9" cy="91.9" r="0.84" fill="#777"/>
<circle cx="273.0" cy="87.0" r="0.81" fill="#555"/>
<circle cx="265.2" cy="81.5" r="0.59" fill="#222"/>
<circle cx="254.1" cy="85.3" r="0.58" fill="#777"/>
<circle cx="258.1" cy="81.4" r="0.52" fill="#555"/>
<circle cx="263.7" cy="89.5" r="0.83" fill="#333"/>
<circle cx="257.1" cy="84.9" r="0.78" fill="#222"/>
<circle cx="265.6" cy="83.0" r="0.65" fill="#222"/>
<circle cx="255.0" cy="85.1" r="0.72" fill="#aaa"/>
<circle cx="260.3" cy="79.5" r="0.99" fill="#777"/>
<circle cx="261.0" cy="85.3" r="0.89" fill="#777"/>
<circle cx="260.8" cy="81.6" r="0.70" fill="#222"/>
<ellipse cx="263.5" cy="86.5" rx="7.5" ry="2.1" transform="rotate(-15 263.5 86.5)" fill="#c8c8c8"/>
<ellipse cx="255" cy="88.5" rx="2.5" ry="1.5" fill="#b0b0b0"/>
<circle cx="430.2" cy="82.7" r="0.45" fill="#888"/>
<circle cx="409.3" cy="90.2" r="0.45" fill="#888"/>
<circle cx="405.7" cy="82.9" r="0.45" fill="#888"/>
<circle cx="426.4" cy="81.7" r="0.45" fill="#888"/>
<circle cx="428.8" cy="78.4" r="0.45" fill="#888"/>
<circle cx="420.0" cy="79.4" r="0.45" fill="#888"/>
<circle cx="420.1" cy="69.9" r="0.45" fill="#888"/>
<circle cx="409.7" cy="74.8" r="0.45" fill="#888"/>
<circle cx="424.9" cy="81.4" r="0.45" fill="#888"/>
<circle cx="408.3" cy="77.2" r="0.45" fill="#888"/>
<circle cx="425.5" cy="82.9" r="0.45" fill="#888"/>
<circle cx="427.2" cy="77.9" r="0.45" fill="#888"/>
<circle cx="427.0" cy="71.7" r="0.45" fill="#888"/>
<circle cx="413.6" cy="74.1" r="0.45" fill="#888"/>
<circle cx="425.6" cy="91.3" r="0.45" fill="#888"/>
<circle cx="414.6" cy="79.5" r="0.45" fill="#888"/>
<circle cx="415.3" cy="88.9" r="0.45" fill="#888"/>
<circle cx="430.2" cy="77.1" r="0.45" fill="#888"/>
<circle cx="421.8" cy="95.7" r="0.45" fill="#888"/>
<circle cx="407.2" cy="83.9" r="0.45" fill="#888"/>
<circle cx="415.0" cy="79.4" r="0.45" fill="#888"/>
<circle cx="416.4" cy="84.6" r="0.45" fill="#888"/>
<circle cx="409.3" cy="87.2" r="0.45" fill="#888"/>
<circle cx="419.9" cy="86.5" r="0.45" fill="#888"/>
<circle cx="408.5" cy="89.7" r="0.45" fill="#888"/>
<circle cx="420.4" cy="91.0" r="0.45" fill="#888"/>
<circle cx="441.0" cy="82.7" r="0.45" fill="#888"/>
<circle cx="432.1" cy="79.1" r="0.45" fill="#888"/>
<circle cx="405.1" cy="82.0" r="0.45" fill="#888"/>
<circle cx="427.1" cy="78.3" r="0.45" fill="#888"/>
<circle cx="400.7" cy="81.2" r="0.45" fill="#888"/>
<circle cx="419.7" cy="76.3" r="0.45" fill="#888"/>
<circle cx="414.3" cy="85.9" r="0.45" fill="#888"/>
<circle cx="427.1" cy="84.8" r="0.45" fill="#888"/>
<circle cx="427.8" cy="82.7" r="0.45" fill="#888"/>
<circle cx="400.4" cy="74.4" r="0.45" fill="#888"/>
<circle cx="418.0" cy="88.2" r="0.45" fill="#888"/>
<circle cx="412.4" cy="95.8" r="0.45" fill="#888"/>
<circle cx="436.5" cy="70.6" r="0.45" fill="#888"/>
<circle cx="433.9" cy="74.7" r="0.45" fill="#888"/>
<circle cx="420.5" cy="77.6" r="0.45" fill="#888"/>
<circle cx="418.1" cy="89.3" r="0.45" fill="#888"/>
<circle cx="412.6" cy="85.0" r="0.45" fill="#888"/>
<circle cx="432.7" cy="82.2" r="0.45" fill="#888"/>
<circle cx="418.5" cy="80.7" r="0.45" fill="#888"/>
<circle cx="434.0" cy="82.5" r="0.45" fill="#888"/>
<circle cx="417.5" cy="88.2" r="0.45" fill="#888"/>
<circle cx="410.3" cy="81.4" r="0.45" fill="#888"/>
<circle cx="419.5" cy="84.5" r="0.45" fill="#888"/>
<circle cx="408.7" cy="90.5" r="0.45" fill="#888"/>
<circle cx="422.0" cy="82.2" r="0.45" fill="#888"/>
<circle cx="425.4" cy="72.8" r="0.45" fill="#888"/>
<circle cx="417.5" cy="82.5" r="0.45" fill="#888"/>
<circle cx="431.2" cy="86.9" r="0.45" fill="#888"/>
<circle cx="419.7" cy="91.7" r="0.45" fill="#888"/>
<circle cx="424.4" cy="80.8" r="0.45" fill="#888"/>
<circle cx="429.4" cy="70.1" r="0.45" fill="#888"/>
<circle cx="409.2" cy="78.7" r="0.45" fill="#888"/>
<circle cx="410.5" cy="78.6" r="0.45" fill="#888"/>
<circle cx="414.7" cy="82.3" r="0.45" fill="#888"/>
<circle cx="424.7" cy="81.1" r="0.45" fill="#888"/>
<circle cx="427.7" cy="81.4" r="0.45" fill="#888"/>
<circle cx="434.5" cy="90.3" r="0.45" fill="#888"/>
<circle cx="432.9" cy="84.9" r="0.45" fill="#888"/>
<circle cx="416.9" cy="78.9" r="0.45" fill="#888"/>
<circle cx="410.6" cy="86.1" r="0.45" fill="#888"/>
<circle cx="410.9" cy="76.3" r="0.45" fill="#888"/>
<circle cx="409.0" cy="86.6" r="0.45" fill="#888"/>
<circle cx="417.2" cy="81.8" r="0.45" fill="#888"/>
<circle cx="396.2" cy="71.5" r="0.45" fill="#888"/>
<circle cx="418.4" cy="75.5" r="0.45" fill="#888"/>
<circle cx="411.0" cy="81.3" r="0.45" fill="#888"/>
<circle cx="400.3" cy="88.4" r="0.45" fill="#888"/>
<circle cx="434.7" cy="84.0" r="0.45" fill="#888"/>
<circle cx="438.6" cy="96.3" r="0.45" fill="#888"/>
<circle cx="420.7" cy="89.5" r="0.45" fill="#888"/>
<circle cx="437.6" cy="87.9" r="0.45" fill="#888"/>
<circle cx="442.7" cy="73.2" r="0.45" fill="#888"/>
<circle cx="420.9" cy="83.3" r="0.45" fill="#888"/>
<circle cx="410.0" cy="76.4" r="0.45" fill="#888"/>
<circle cx="410.7" cy="71.2" r="0.45" fill="#888"/>
<circle cx="429.5" cy="79.8" r="0.45" fill="#888"/>
<circle cx="440.4" cy="74.4" r="0.45" fill="#888"/>
<circle cx="432.0" cy="83.7" r="0.45" fill="#888"/>
<circle cx="433.0" cy="90.7" r="0.45" fill="#888"/>
<circle cx="424.5" cy="78.0" r="0.45" fill="#888"/>
<circle cx="434.6" cy="90.4" r="0.45" fill="#888"/>
<circle cx="425.2" cy="86.2" r="0.45" fill="#888"/>
<circle cx="412.5" cy="79.2" r="0.45" fill="#888"/>
<circle cx="434.0" cy="70.1" r="0.45" fill="#888"/>
<circle cx="440.8" cy="78.2" r="0.45" fill="#888"/>
<circle cx="409.4" cy="81.3" r="0.45" fill="#888"/>
<circle cx="419.8" cy="81.5" r="0.45" fill="#888"/>
<circle cx="446.9" cy="81.1" r="0.45" fill="#888"/>
<circle cx="424.4" cy="92.6" r="0.45" fill="#888"/>
<circle cx="423.0" cy="75.9" r="0.45" fill="#888"/>
<circle cx="409.0" cy="79.1" r="0.45" fill="#888"/>
<circle cx="422.4" cy="82.6" r="0.45" fill="#888"/>
<circle cx="432.6" cy="85.3" r="0.45" fill="#888"/>
<circle cx="437.5" cy="92.7" r="0.45" fill="#888"/>
<circle cx="420.1" cy="80.3" r="0.45" fill="#888"/>
<circle cx="431.3" cy="86.5" r="0.45" fill="#888"/>
<circle cx="424.8" cy="81.6" r="0.45" fill="#888"/>
<circle cx="441.0" cy="82.5" r="0.45" fill="#888"/>
<circle cx="421.1" cy="77.8" r="0.45" fill="#888"/>
<circle cx="433.2" cy="78.3" r="0.45" fill="#888"/>
<circle cx="408.9" cy="73.0" r="0.45" fill="#888"/>
<circle cx="420.7" cy="72.8" r="0.45" fill="#888"/>
<circle cx="415.4" cy="84.9" r="0.45" fill="#888"/>
<circle cx="421.9" cy="82.8" r="0.45" fill="#888"/>
<circle cx="442.4" cy="75.4" r="0.45" fill="#888"/>
<circle cx="420.9" cy="79.1" r="0.45" fill="#888"/>
<circle cx="420.3" cy="73.7" r="0.45" fill="#888"/>
<circle cx="415.5" cy="82.5" r="0.45" fill="#888"/>
<circle cx="424.1" cy="73.5" r="0.45" fill="#888"/>
<circle cx="418.9" cy="86.5" r="0.45" fill="#888"/>
<circle cx="420.9" cy="86.6" r="0.45" fill="#888"/>
<circle cx="423.9" cy="80.5" r="0.45" fill="#888"/>
<circle cx="421.2" cy="69.4" r="0.45" fill="#888"/>
<circle cx="421.9" cy="73.9" r="0.45" fill="#888"/>
<circle cx="412.6" cy="83.1" r="0.45" fill="#888"/>
<circle cx="419.5" cy="71.9" r="0.45" fill="#888"/>
<circle cx="433.5" cy="81.5" r="0.45" fill="#888"/>
<circle cx="431.0" cy="84.1" r="0.45" fill="#888"/>
<circle cx="434.1" cy="82.3" r="0.45" fill="#888"/>
<circle cx="415.6" cy="72.0" r="0.45" fill="#888"/>
<circle cx="413.1" cy="80.3" r="0.45" fill="#888"/>
<circle cx="409.6" cy="85.3" r="0.45" fill="#888"/>
<circle cx="417.8" cy="90.8" r="0.45" fill="#888"/>
<circle cx="430.3" cy="82.2" r="0.45" fill="#888"/>
<circle cx="434.8" cy="84.9" r="0.45" fill="#888"/>
<circle cx="432.1" cy="67.5" r="0.45" fill="#888"/>
<circle cx="398.3" cy="76.3" r="0.45" fill="#888"/>
<circle cx="407.3" cy="82.3" r="0.45" fill="#888"/>
<circle cx="432.3" cy="88.9" r="0.45" fill="#888"/>
<circle cx="427.9" cy="79.3" r="0.45" fill="#888"/>
<circle cx="434.6" cy="91.3" r="0.45" fill="#888"/>
<circle cx="421.6" cy="75.1" r="0.45" fill="#888"/>
<circle cx="434.3" cy="79.7" r="0.45" fill="#888"/>
<circle cx="428.7" cy="83.7" r="0.45" fill="#888"/>
<circle cx="441.6" cy="86.5" r="0.45" fill="#888"/>
<circle cx="433.8" cy="74.4" r="0.45" fill="#888"/>
<circle cx="408.1" cy="86.6" r="0.45" fill="#888"/>
<circle cx="415.2" cy="85.5" r="0.45" fill="#888"/>
<circle cx="409.5" cy="85.7" r="0.45" fill="#888"/>
<circle cx="436.6" cy="93.7" r="0.45" fill="#888"/>
<circle cx="402.9" cy="73.7" r="0.45" fill="#888"/>
<circle cx="431.3" cy="85.7" r="0.45" fill="#888"/>
<circle cx="415.0" cy="75.1" r="0.45" fill="#888"/>
<circle cx="434.6" cy="81.6" r="0.45" fill="#888"/>
<circle cx="400.0" cy="82.2" r="0.45" fill="#888"/>
<circle cx="408.6" cy="85.0" r="0.45" fill="#888"/>
<circle cx="416.4" cy="87.5" r="0.45" fill="#888"/>
<circle cx="417.6" cy="77.9" r="0.45" fill="#888"/>
<circle cx="422.6" cy="86.3" r="0.45" fill="#888"/>
<circle cx="410.2" cy="76.0" r="0.45" fill="#888"/>
<circle cx="412.7" cy="82.2" r="0.45" fill="#888"/>
<circle cx="420.5" cy="71.2" r="0.45" fill="#888"/>
<circle cx="408.0" cy="76.9" r="0.45" fill="#888"/>
<circle cx="437.4" cy="78.4" r="0.45" fill="#888"/>
<circle cx="413.0" cy="79.3" r="0.45" fill="#888"/>
<circle cx="424.7" cy="94.9" r="0.45" fill="#888"/>
<circle cx="421.0" cy="95.2" r="0.45" fill="#888"/>
<circle cx="427.2" cy="80.7" r="0.45" fill="#888"/>
<circle cx="416.9" cy="78.9" r="0.45" fill="#888"/>
<circle cx="424.7" cy="83.7" r="0.45" fill="#888"/>
<circle cx="418.6" cy="86.1" r="0.45" fill="#888"/>
<circle cx="420.5" cy="84.2" r="0.45" fill="#888"/>
<circle cx="428.0" cy="78.4" r="0.45" fill="#888"/>
<circle cx="429.3" cy="76.5" r="0.45" fill="#888"/>
<circle cx="441.5" cy="80.2" r="0.45" fill="#888"/>
<circle cx="414.3" cy="83.7" r="0.45" fill="#888"/>
<circle cx="429.6" cy="80.0" r="0.45" fill="#888"/>
<circle cx="429.0" cy="81.2" r="0.45" fill="#888"/>
<circle cx="420.9" cy="80.9" r="0.45" fill="#888"/>
<circle cx="423.1" cy="92.1" r="0.45" fill="#888"/>
<circle cx="416.1" cy="75.0" r="0.45" fill="#888"/>
<circle cx="408.0" cy="74.3" r="0.45" fill="#888"/>
<circle cx="412.8" cy="75.4" r="0.45" fill="#888"/>
<circle cx="431.2" cy="74.9" r="0.45" fill="#888"/>
<circle cx="414.3" cy="80.2" r="0.45" fill="#888"/>
<circle cx="423.5" cy="83.8" r="0.45" fill="#888"/>
<circle cx="413.8" cy="84.0" r="0.45" fill="#888"/>
<circle cx="413.1" cy="71.2" r="0.45" fill="#888"/>
<circle cx="422.1" cy="87.0" r="0.45" fill="#888"/>
<circle cx="419.3" cy="78.5" r="0.45" fill="#888"/>
<circle cx="427.5" cy="75.7" r="0.45" fill="#888"/>
<circle cx="441.6" cy="80.7" r="0.45" fill="#888"/>
<circle cx="405.6" cy="82.2" r="0.45" fill="#888"/>
<circle cx="435.6" cy="71.6" r="0.45" fill="#888"/>
<circle cx="420.4" cy="82.3" r="0.45" fill="#888"/>
<circle cx="431.1" cy="69.9" r="0.45" fill="#888"/>
<circle cx="427.5" cy="83.4" r="0.45" fill="#888"/>
<circle cx="425.2" cy="89.7" r="0.45" fill="#888"/>
<circle cx="427.5" cy="79.7" r="0.45" fill="#888"/>
<circle cx="410.2" cy="91.4" r="0.45" fill="#888"/>
<circle cx="414.3" cy="83.2" r="0.45" fill="#888"/>
<circle cx="419.2" cy="81.8" r="0.45" fill="#888"/>
<circle cx="423.1" cy="76.2" r="0.45" fill="#888"/>
<circle cx="412.3" cy="90.0" r="0.45" fill="#888"/>
<circle cx="390.8" cy="89.2" r="0.45" fill="#888"/>
<circle cx="426.7" cy="87.0" r="0.45" fill="#888"/>
<circle cx="436.0" cy="76.3" r="0.45" fill="#888"/>
<circle cx="409.2" cy="77.6" r="0.45" fill="#888"/>
<circle cx="421.4" cy="86.9" r="0.45" fill="#888"/>
<circle cx="424.9" cy="81.9" r="0.45" fill="#888"/>
<circle cx="433.3" cy="76.3" r="0.45" fill="#888"/>
<circle cx="414.1" cy="75.7" r="0.45" fill="#888"/>
<circle cx="428.2" cy="83.7" r="0.45" fill="#888"/>
<circle cx="400.9" cy="91.6" r="0.45" fill="#888"/>
<circle cx="453.7" cy="74.9" r="0.45" fill="#888"/>
<circle cx="432.1" cy="78.8" r="0.45" fill="#888"/>
<circle cx="434.4" cy="91.0" r="0.45" fill="#888"/>
<circle cx="438.4" cy="83.8" r="0.45" fill="#888"/>
<circle cx="427.0" cy="88.3" r="0.45" fill="#888"/>
<circle cx="416.5" cy="72.0" r="0.45" fill="#888"/>
<circle cx="431.1" cy="87.0" r="0.45" fill="#888"/>
<circle cx="429.1" cy="72.0" r="0.45" fill="#888"/>
<circle cx="392.2" cy="94.1" r="0.45" fill="#888"/>
<circle cx="421.1" cy="73.5" r="0.45" fill="#888"/>
<path d="M412.8 83.3 C414 80 417.5 78 421 76.8 C425.5 75.3 431 74.6 434.5 75.8 C437.5 77 437.2 81 434.5 83 C431.5 85 426 85.4 421 85.3 C417.5 85.2 414.5 84.6 412.8 83.3 Z" fill="#fff" stroke="#4a4a4a" stroke-width="1.05"/>
<circle cx="424.9" cy="108.7" r="0.45" fill="#aaa"/>
<circle cx="424.4" cy="109.0" r="0.45" fill="#aaa"/>
<circle cx="419.1" cy="108.4" r="0.45" fill="#aaa"/>
<circle cx="436.5" cy="109.5" r="0.45" fill="#aaa"/>
<circle cx="406.8" cy="109.8" r="0.45" fill="#aaa"/>
<circle cx="425.6" cy="108.9" r="0.45" fill="#aaa"/>
<circle cx="418.5" cy="109.0" r="0.45" fill="#aaa"/>
<circle cx="410.5" cy="109.7" r="0.45" fill="#aaa"/>
<circle cx="439.5" cy="110.5" r="0.45" fill="#aaa"/>
<circle cx="427.4" cy="110.2" r="0.45" fill="#aaa"/>
<circle cx="420.1" cy="109.8" r="0.45" fill="#aaa"/>
<circle cx="415.7" cy="109.3" r="0.45" fill="#aaa"/>
<circle cx="433.4" cy="109.3" r="0.45" fill="#aaa"/>
<circle cx="416.3" cy="110.5" r="0.45" fill="#aaa"/>
<circle cx="419.6" cy="109.1" r="0.45" fill="#aaa"/>
<circle cx="429.7" cy="109.9" r="0.45" fill="#aaa"/>
<circle cx="413.8" cy="108.9" r="0.45" fill="#aaa"/>
<circle cx="426.5" cy="109.2" r="0.45" fill="#aaa"/>
<circle cx="407.9" cy="110.0" r="0.45" fill="#aaa"/>
<circle cx="425.4" cy="110.4" r="0.45" fill="#aaa"/>
<circle cx="410.9" cy="109.4" r="0.45" fill="#aaa"/>
<circle cx="413.6" cy="107.6" r="0.45" fill="#aaa"/>
<circle cx="439.3" cy="110.5" r="0.45" fill="#aaa"/>
<circle cx="410.8" cy="109.3" r="0.45" fill="#aaa"/>
<circle cx="419.9" cy="110.5" r="0.45" fill="#aaa"/>
<circle cx="423.8" cy="109.9" r="0.45" fill="#aaa"/>
<circle cx="430.1" cy="108.6" r="0.45" fill="#aaa"/>
<circle cx="426.4" cy="109.9" r="0.45" fill="#aaa"/>
<circle cx="408.3" cy="110.3" r="0.45" fill="#aaa"/>
<circle cx="411.7" cy="109.8" r="0.45" fill="#aaa"/>
<circle cx="403.5" cy="109.8" r="0.45" fill="#aaa"/>
<circle cx="420.9" cy="109.0" r="0.45" fill="#aaa"/>
<circle cx="429.2" cy="110.5" r="0.45" fill="#aaa"/>
<circle cx="422.5" cy="109.1" r="0.45" fill="#aaa"/>
<circle cx="417.0" cy="110.7" r="0.45" fill="#aaa"/>
<circle cx="415.4" cy="109.6" r="0.45" fill="#aaa"/>
<circle cx="413.7" cy="109.8" r="0.45" fill="#aaa"/>
<circle cx="436.5" cy="109.6" r="0.45" fill="#aaa"/>
<circle cx="426.6" cy="110.3" r="0.45" fill="#aaa"/>
<circle cx="421.9" cy="109.5" r="0.45" fill="#aaa"/>
<path d="M442 109.8 C445 107.5 449 106.5 453 107.2 C461 109 468 117 473.5 124.5 C475.5 127.5 474 130 470.5 129 C466 127.5 460 121.5 453 115.6 C449 112.8 445.5 111.2 442 109.8 Z" fill="#fff" stroke="#333" stroke-width="0.8"/>
<path d="M446.5 110.3 C449.5 108.6 453.5 108.6 457 110.3 C463 113.5 468.5 119.5 472 125.5 C471.5 127.5 469 127.2 466.5 125.3 C461 121 455 116 450 112.6 C448.5 111.7 447.5 111 446.5 110.3 Z" fill="#c8c8c8" stroke="#444" stroke-width="0.7"/>
<ellipse cx="452.8" cy="111.3" rx="3.2" ry="1.6" transform="rotate(28 452.8 111.3)" fill="#fff" stroke="#555" stroke-width="0.6"/>
<ellipse cx="463" cy="117.8" rx="10.8" ry="3.3" transform="rotate(41 463 117.8)" fill="#777"/>
<ellipse cx="462.8" cy="117.5" rx="9" ry="2.2" transform="rotate(41 462.8 117.5)" fill="#111"/>
<text x="0.5" y="234.8" font-size="25" font-weight="bold">B</text>
<path d="M75.6 224.29999999999998V502.5M74.3 493.6H256" stroke="#000" stroke-width="2.6" fill="none"/>
<path d="M67.1 225.6H75.6M67.1 292.6H75.6M67.1 359.4H75.6M67.1 426.5H75.6M67.1 493.6H75.6M125.6 493.6V502.5M175.3 493.6V502.5M225.9 493.6V502.5" stroke="#000" stroke-width="2.6" fill="none"/>
<text x="65.19999999999999" y="233.5" font-size="20" text-anchor="end">10<tspan dy="-7.8" font-size="13.2">7</tspan></text>
<text x="65.19999999999999" y="300.5" font-size="20" text-anchor="end">10<tspan dy="-7.8" font-size="13.2">6</tspan></text>
<text x="65.19999999999999" y="367.29999999999995" font-size="20" text-anchor="end">10<tspan dy="-7.8" font-size="13.2">5</tspan></text>
<text x="65.19999999999999" y="434.4" font-size="20" text-anchor="end">10<tspan dy="-7.8" font-size="13.2">4</tspan></text>
<text x="65.19999999999999" y="501.5" font-size="20" text-anchor="end">10<tspan dy="-7.8" font-size="13.2">3</tspan></text>
<text x="75.2" y="522.2" font-size="19.5" text-anchor="middle">7</text>
<text x="125.6" y="522.2" font-size="19.5" text-anchor="middle">14</text>
<text x="175.3" y="522.2" font-size="19.5" text-anchor="middle">21</text>
<text x="225.9" y="522.2" font-size="19.5" text-anchor="middle">28</text>
<text x="156.9" y="227.9" font-size="16.7" text-anchor="middle">Spleen</text>
<text transform="translate(21.8,448.3) rotate(-90)" font-size="16.8">Number of TS1 cells</text>
<text x="163.4" y="547.6" font-size="16.5" text-anchor="middle">Day post BMT</text>
<path d="M336.3 226.39999999999998V504M335.0 495.2H516.7" stroke="#000" stroke-width="2.6" fill="none"/>
<path d="M327.8 227.7H336.3M327.8 294.3H336.3M327.8 361.2H336.3M327.8 428.5H336.3M327.8 495.2H336.3M386.3 495.2V504M436.3 495.2V504M486.3 495.2V504" stroke="#000" stroke-width="2.6" fill="none"/>
<text x="325.90000000000003" y="235.6" font-size="20" text-anchor="end">10<tspan dy="-7.8" font-size="13.2">7</tspan></text>
<text x="325.90000000000003" y="302.2" font-size="20" text-anchor="end">10<tspan dy="-7.8" font-size="13.2">6</tspan></text>
<text x="325.90000000000003" y="369.09999999999997" font-size="20" text-anchor="end">10<tspan dy="-7.8" font-size="13.2">5</tspan></text>
<text x="325.90000000000003" y="436.4" font-size="20" text-anchor="end">10<tspan dy="-7.8" font-size="13.2">4</tspan></text>
<text x="325.90000000000003" y="503.09999999999997" font-size="20" text-anchor="end">10<tspan dy="-7.8" font-size="13.2">3</tspan></text>
<text x="336.3" y="524" font-size="19.5" text-anchor="middle">7</text>
<text x="386.3" y="524" font-size="19.5" text-anchor="middle">14</text>
<text x="436.3" y="524" font-size="19.5" text-anchor="middle">21</text>
<text x="486.3" y="524" font-size="19.5" text-anchor="middle">28</text>
<text x="410.6" y="228.3" font-size="16.7" text-anchor="middle">Colon</text>
<text transform="translate(286.8,434.4) rotate(-90)" font-size="16.6">Number of TS1 cells</text>
<text x="424" y="543.3" font-size="16.5" text-anchor="middle">Day post BMT</text>
<path d="M125.6 359.3V384.5M119.3 359.3h12.6M119.3 384.5h12.6M175.3 382V394.5M169.0 382h12.6M169.0 394.5h12.6M225.9 340.5V355.5M219.6 340.5h12.6M219.6 355.5h12.6" stroke="#858585" stroke-width="2.4" fill="none"/>
<polyline points="125.6,370 175.3,386 225.9,350.5" stroke="#858585" stroke-width="3.8" fill="none" stroke-dasharray="3.6 8.6" stroke-dashoffset="0" stroke-linecap="round" stroke-linejoin="round"/>
<path d="M125.6 295.3V306M119.3 295.3h12.6M119.3 306h12.6M175.3 312V323.7M169.0 312h12.6M169.0 323.7h12.6M225.9 294V303.7M219.6 294h12.6M219.6 303.7h12.6" stroke="#000" stroke-width="2.4" fill="none"/>
<polyline points="125.6,300.5 175.3,316 225.9,299.5" stroke="#000" stroke-width="5.5" fill="none" stroke-linejoin="round"/>
<path d="M125.6 307.6V316.4M119.3 307.6h12.6M119.3 316.4h12.6M175.3 294.3V305M169.0 294.3h12.6M169.0 305h12.6M225.9 293.6V301.7M219.6 293.6h12.6M219.6 301.7h12.6" stroke="#858585" stroke-width="2.4" fill="none"/>
<polyline points="125.6,310 175.3,300.5 225.9,297.5" stroke="#858585" stroke-width="4.3" fill="none" stroke-linejoin="round"/>
<path d="M125.6 305V314.2M119.3 305h12.6M119.3 314.2h12.6M175.3 295.5V305.8M169.0 295.5h12.6M169.0 305.8h12.6M225.9 276.7V292.1M219.6 276.7h12.6M219.6 292.1h12.6" stroke="#000" stroke-width="2.4" fill="none"/>
<polyline points="125.6,309 175.3,301 225.9,284.5" stroke="#000" stroke-width="4.5" fill="none" stroke-dasharray="3.4 8.4" stroke-dashoffset="0.65" stroke-linecap="round" stroke-linejoin="round"/>
<rect x="171.3" y="298.3" width="8" height="5.4" rx="2" fill="#000"/>
<path d="M386.3 395.8V410.3M380.0 395.8h12.6M380.0 410.3h12.6M436.3 422.3V429.7M430.0 422.3h12.6M430.0 429.7h12.6M486.3 443.6V451.9M480.0 443.6h12.6M480.0 451.9h12.6" stroke="#858585" stroke-width="2.4" fill="none"/>
<polyline points="386.3,404 436.3,426 486.3,446.3" stroke="#858585" stroke-width="3.7" fill="none" stroke-dasharray="3 7.6" stroke-dashoffset="0" stroke-linecap="round" stroke-linejoin="round"/>
<path d="M386.3 342.5V356.8M380.0 342.5h12.6M380.0 356.8h12.6M436.3 340.8V366.3M430.0 340.8h12.6M430.0 366.3h12.6M486.3 374.3V413.8M480.0 374.3h12.6M480.0 413.8h12.6" stroke="#858585" stroke-width="2.4" fill="none"/>
<polyline points="386.3,349 436.3,351.5 486.3,387" stroke="#858585" stroke-width="4.6" fill="none" stroke-linejoin="round"/>
<path d="M386.3 333.1V347.9M380.0 333.1h12.6M380.0 347.9h12.6M436.3 306V321.9M430.0 306h12.6M430.0 321.9h12.6M486.3 336.9V348M480.0 336.9h12.6M480.0 348h12.6" stroke="#000" stroke-width="2.4" fill="none"/>
<polyline points="386.3,338.5 436.3,311.5 486.3,342.5" stroke="#000" stroke-width="4.6" fill="none" stroke-dasharray="2.6 8.2" stroke-dashoffset="0" stroke-linecap="round" stroke-linejoin="round"/>
<path d="M386.3 321.5V331M380.0 321.5h12.6M380.0 331h12.6M436.3 288.5V306M430.0 288.5h12.6M430.0 306h12.6M486.3 333.6V354.2M480.0 333.6h12.6M480.0 354.2h12.6" stroke="#000" stroke-width="2.4" fill="none"/>
<polyline points="386.3,326 436.3,297.7 486.3,343.5" stroke="#000" stroke-width="5.5" fill="none" stroke-linejoin="round"/>
<rect x="126.1" y="563.4" width="289.6" height="55.1" fill="none" stroke="#444" stroke-width="1.4"/>
<path d="M136.3 580H167.5" stroke="#000" stroke-width="2.2"/>
<path d="M135 604H167.5" stroke="#999" stroke-width="2"/>
<text x="174" y="586" font-size="16.5">Naive</text>
<text x="174" y="609.5" font-size="16.5">EM</text>
<path d="M244.3 580h6.5M260.9 580h6.4M277.6 580h6.4" stroke="#000" stroke-width="2.5"/>
<path d="M244.1 604h6.4M260.7 604h6.3M277.1 604h4" stroke="#b0b0b0" stroke-width="2"/>
<text x="291.2" y="586.5" font-size="16.6">Naive (with EM)</text>
<text x="291.2" y="609.3" font-size="16.6">EM (with Naive)</text>
</svg></body></html>
